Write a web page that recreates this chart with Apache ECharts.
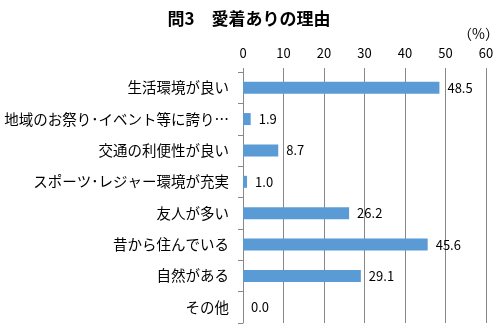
<!DOCTYPE html>
<html><head><meta charset="utf-8">
<script src="https://cdn.jsdelivr.net/npm/echarts@6/dist/echarts.min.js"></script>
<style>html,body{margin:0;padding:0;background:#fff}#c{width:498px;height:328px}</style>
</head><body><div id="c"></div>
<script>
const categories = ["生活環境が良い","地域のお祭り･イベント等に誇り…","交通の利便性が良い","スポーツ･レジャー環境が充実","友人が多い","昔から住んでいる","自然がある","その他"];
const values = [48.5, 1.9, 8.7, 1.0, 26.2, 45.6, 29.1, 0.0];
const titleText = "問3　愛着ありの理由";
const unitText = "（%）";

const font = "'Noto Sans CJK JP', sans-serif";
const chart = echarts.init(document.getElementById('c'));
chart.setOption({
  animation: false,
  title: { text: titleText, left: 'center', top: 5, textStyle: { fontFamily: font, fontSize: 17, fontWeight: 'bold', color: '#000' } },
  graphic: [{ type: 'text', left: 458, top: 27, style: { text: unitText, font: "14px " + font, fill: '#000' } }],
  grid: { left: 243, right: 12, top: 72, bottom: 5 },
  xAxis: {
    type: 'value', position: 'top', min: 0, max: 60, interval: 10,
    axisLine: { show: false },
    axisTick: { show: true, length: 4, lineStyle: { color: '#888' } },
    axisLabel: { margin: 12, fontFamily: font, fontSize: 13, color: '#000' },
    splitLine: { show: true, lineStyle: { color: '#888', width: 1 } }
  },
  yAxis: {
    type: 'category', data: categories, inverse: true,
    axisLine: { show: true, lineStyle: { color: '#888' } },
    axisTick: { show: true, length: 5, lineStyle: { color: '#888' } },
    axisLabel: { margin: 14, fontFamily: font, fontSize: 14.5, color: '#000' }
  },
  series: [{
    type: 'bar', data: values, barWidth: 12,
    itemStyle: { color: '#5B9BD5' },
    label: { show: true, position: 'right', distance: 8, fontFamily: font, fontSize: 13, color: '#000',
      formatter: p => p.value.toFixed(1) }
  }]
});
</script></body></html>
